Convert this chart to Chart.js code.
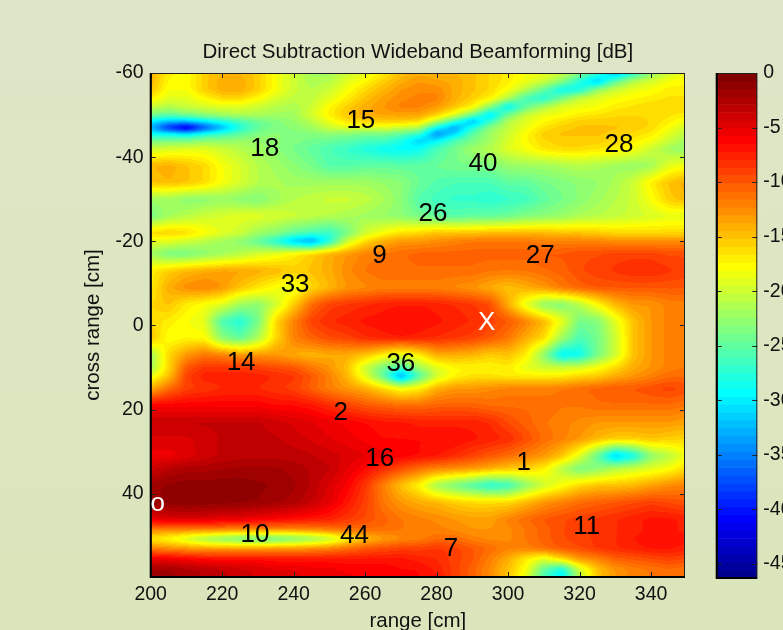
<!DOCTYPE html>
<html>
<head>
<meta charset="utf-8">
<script src="https://cdn.jsdelivr.net/npm/chart.js@4"></script>
<style>
html, body { margin: 0; padding: 0; width: 783px; height: 630px; overflow: hidden; }
body { position: relative; background: linear-gradient(180deg, #dfe5c8 0%, #dce6c0 60%, #dae5bb 100%); }
#main { position: absolute; left: 0; top: 0; }
#bar { position: absolute; left: 700px; top: 0; }
</style>
</head>
<body>
<canvas id="main" width="783" height="630"></canvas>
<canvas id="bar" width="120" height="630"></canvas>
<script>
// heat map samples in dB
const rangeCols = [200, 205, 210, 215, 220, 225, 230, 235, 240, 245, 250, 255, 260, 265, 270, 275, 280, 285, 290, 295, 300, 305, 310, 315, 320, 325, 330, 335, 340, 345, 350];
const crossRows = [-60, -58, -56, -54, -52, -50, -48.5, -47, -45.5, -44, -42, -38, -34, -30, -26, -22, -20, -17, -13, -9, -5, -1, 3, 7, 10, 12, 15, 19, 23, 27, 31, 34, 38, 42, 46, 48.5, 50.7, 53, 55.5, 58, 60];
const dbValues = [
    [-14, -17, -18, -15.5, -14.5, -14.5, -15.5, -18, -20, -22, -22, -20, -19, -17, -15, -14, -14.5, -14.5, -15, -16, -17, -18, -18.5, -20, -23, -27, -33, -28, -23, -20, -18],
    [-14.5, -17.5, -18, -15.5, -14, -14, -15.5, -18, -20, -21.5, -21, -19, -17.5, -15.5, -14, -13, -13.5, -14, -15, -16, -17, -18.5, -20, -23, -28, -32, -25, -21, -19.5, -18, -17.5],
    [-15, -18, -18, -15.5, -14, -14, -15.5, -18, -20, -21, -20, -18, -16, -14.5, -13, -12.5, -12.5, -14, -15, -16, -18, -21, -25, -29.5, -28.7, -22.5, -20, -18.5, -18, -17, -17],
    [-17, -19, -19, -17.5, -16, -16, -17.5, -19.5, -20.5, -20.5, -19, -17, -15, -13.5, -12.5, -12, -12, -14, -15.5, -17, -21, -26.5, -28, -24, -20, -19, -18, -17.5, -17, -16.5, -16.5],
    [-20, -21, -20, -19.5, -19, -19, -20, -21, -21.5, -20, -17.5, -15.5, -14, -13, -12, -12, -13, -15, -17, -23, -30, -25, -21.5, -19, -18.5, -18, -17, -16.5, -16, -16, -16],
    [-24, -25, -24, -23, -22, -21.5, -21.5, -22, -22, -19.5, -17, -15, -14, -13.5, -13.5, -13.5, -15.5, -19, -24.5, -31, -24, -20, -18.5, -18, -17, -16.5, -16, -16, -16, -16.5, -17],
    [-30, -32, -32, -30, -28, -26, -24.5, -23.5, -22.5, -21, -18.5, -16.5, -16, -15.5, -15.5, -16, -21, -27, -33, -27, -21, -19, -17.5, -16.5, -15.5, -15.5, -15.5, -15.5, -16, -17, -18.5],
    [-33, -40, -44, -38, -33, -28, -25, -23.5, -23, -22, -20, -19, -19, -19, -20, -21, -29, -34, -28, -23, -20.5, -18.5, -16.5, -15.5, -15, -15, -15, -15.5, -16, -18, -20],
    [-29, -29, -30, -28, -26.5, -25, -23.5, -23, -23.5, -23.5, -23, -23.5, -24, -24, -25, -27, -35, -31, -25, -22, -20, -17.5, -15.5, -15, -15, -15, -15.5, -16, -17, -19, -21],
    [-24, -24, -24, -23, -23, -22.5, -22.5, -23, -23.5, -24, -24.5, -25, -26, -26, -28, -31.5, -30, -26, -24, -22, -19.5, -17.5, -16, -15.5, -15.5, -15.5, -16, -17, -18, -20, -22],
    [-20, -19.5, -19, -19, -20, -21, -22, -23, -24, -25, -26, -27, -28, -29, -29.5, -29, -26, -24, -22, -21, -19, -18, -16.5, -16, -16, -16.5, -17, -18, -20, -22, -23],
    [-14.5, -14, -15, -16, -18, -19.5, -21, -22, -23, -24, -25.5, -25.5, -25, -25, -25, -25, -24.5, -24, -24, -23.5, -22.5, -22, -22, -21.5, -21, -21.5, -22, -22.5, -22, -19, -18],
    [-15, -14.5, -15, -16, -18, -19.5, -21, -21.5, -22, -22, -22, -22, -22, -22.5, -23, -24.5, -25.5, -26, -26, -26, -25, -25, -24, -23.5, -23, -22.5, -21.5, -20, -17, -15, -14],
    [-22, -22, -23, -23, -22.5, -23, -23.5, -22, -21, -20.5, -20, -20, -20.5, -21.5, -23, -25.5, -26.5, -27, -27, -27.5, -27, -26.5, -25, -24, -23, -22, -21, -20, -18, -15.5, -14.5],
    [-24, -22, -21, -20, -19.5, -19, -19, -19.5, -20, -20.5, -21, -21.5, -22, -22.5, -23, -24, -25, -25.5, -25, -25, -24.5, -23.5, -23, -22.5, -21.5, -21, -20.5, -20, -19.5, -19, -19],
    [-16, -15.5, -16, -17.5, -19, -20, -22, -23, -25, -26, -27, -24, -20, -18, -16.5, -16, -15, -15, -15, -14.5, -14.5, -14.5, -14.5, -15, -15, -15.5, -16, -16, -16, -16, -16],
    [-19, -19, -20, -21, -22, -23, -25, -28, -32, -34, -28, -20, -16, -14, -13, -13, -12.5, -12, -11.5, -11.5, -11.5, -11.5, -12, -12, -12, -12, -12.5, -12.5, -12.5, -12.5, -12.5],
    [-22, -24, -24, -23, -22, -21, -19.5, -18.5, -17, -15.5, -14, -13, -12, -11.5, -11, -10.5, -10.5, -10.5, -10.5, -10.5, -10.5, -10.5, -10, -10, -9.5, -9.5, -9, -9, -9, -9.5, -9.5],
    [-17, -15.5, -14.5, -14, -13.5, -13.5, -14, -14.5, -15.5, -15, -14, -12.5, -11.5, -11, -11, -11, -11, -11, -11, -11.5, -11.5, -11.5, -11, -10.5, -9.5, -9, -8.5, -8, -8, -8.5, -9],
    [-17, -14, -12.5, -12, -13, -15, -16.5, -18, -19, -16, -14.5, -13, -12.5, -12, -12, -12, -12, -12.5, -13, -14, -15, -14, -13, -11.5, -10.5, -10, -10, -10, -10, -10, -10],
    [-16, -15, -17, -18, -19, -22, -23, -20, -15.5, -11, -9, -8.5, -8, -7.5, -7.2, -7.2, -7.5, -8, -8.5, -9.5, -14, -19, -23, -23.5, -21, -17.5, -14.5, -13, -13, -12, -12],
    [-16, -17, -18, -19, -26, -28, -24, -16, -12, -9, -8, -7.5, -7, -6.8, -6.7, -6.7, -7, -7.5, -8, -9, -10, -12, -14.5, -18.5, -24, -23.5, -19, -15, -13, -12, -12],
    [-15, -18, -17.5, -17.5, -23, -25, -21.5, -16, -12, -10.5, -9.5, -9, -8, -7.5, -7.2, -7.5, -8, -8.5, -9, -10, -11.5, -14, -16, -22, -26, -24, -20, -15, -13, -12, -12],
    [-22, -16, -13, -11.5, -12, -13, -13, -13, -14, -14.5, -14, -14, -15, -17, -19, -17, -14, -14, -14.5, -15.5, -15, -17, -23, -30, -29, -24, -20, -15, -13, -12, -11.5],
    [-22, -16, -10, -8.5, -8.5, -8.5, -9, -9.5, -10, -11.5, -13, -15, -20, -24, -26, -22, -19, -17.5, -17.5, -17.5, -17, -19, -20, -20, -19.5, -18, -16, -14, -13, -12, -11.5],
    [-19, -15, -9, -7.5, -7.5, -7.5, -7.5, -8, -8.5, -10, -12, -14.5, -19, -25, -34, -26, -20, -17.5, -16.5, -16.5, -17, -17, -17, -17, -16, -15.5, -14, -13, -12, -11, -11],
    [-14, -11, -9, -8.5, -8, -8, -8, -8.5, -9, -10.5, -12, -13, -14, -16, -18, -17, -14, -13, -13, -12.5, -12, -12, -12, -11.5, -11, -10.5, -10, -10, -9.5, -9, -9.5],
    [-6, -6, -6, -6, -6, -6, -6, -6.5, -6.5, -7, -8, -9, -10, -10.5, -11, -11, -10.5, -10.5, -10.5, -11, -11, -11, -11, -11.5, -11.5, -11, -11, -11, -11, -11, -11.5],
    [-3.5, -3.5, -3.5, -3.5, -3.5, -3.5, -3.5, -4, -4.5, -5, -5.5, -6, -6.5, -7, -7, -7.5, -7.5, -7.5, -7.5, -8, -9.5, -10.5, -11.5, -12, -12.5, -13, -13, -13, -13, -13, -13.5],
    [-4.5, -4.5, -4.5, -4, -3.5, -3.5, -3.5, -3.5, -4, -4.5, -5, -5.5, -6, -6.5, -6.5, -6.5, -6.5, -6.5, -7, -7.5, -8, -9.5, -11, -12, -13, -14.5, -15.5, -15.5, -15, -15.5, -16],
    [-5.5, -5.5, -4.8, -4, -3.5, -3.2, -3.2, -3.2, -3.2, -3.5, -4, -4.5, -5, -5.5, -6, -6.5, -7, -8, -9, -10, -11, -12, -13, -15, -19, -25, -32, -29, -23, -21, -18],
    [-4, -3, -2.5, -2.5, -2.2, -2, -2, -2, -2.5, -3, -3.5, -5, -6.5, -8, -9.5, -11, -12, -12.5, -13, -14, -15, -15.5, -17, -21, -24, -23, -21, -20, -19, -18, -16],
    [-1.8, -1.3, -1, -1, -1, -1, -1.3, -1.5, -2, -3, -4.5, -6, -8.5, -12, -15, -17.5, -22, -24, -26, -28, -27, -23, -20, -18, -16, -15, -15, -14.5, -13.5, -12.5, -12],
    [-1.8, -1, -0.7, -0.9, -1, -1.2, -1.5, -2, -2.5, -3.5, -5, -7, -9, -11.5, -13, -14, -14.5, -15.5, -16, -16, -16, -14.5, -13, -12, -11, -10.5, -10, -9.5, -9, -9.5, -10],
    [-5, -4.5, -4.5, -4.5, -5, -5, -5.5, -6, -6.5, -7, -7.5, -8.5, -9.5, -10.5, -11.5, -12, -12.5, -13, -13.5, -13.5, -12, -11, -10, -9.5, -9, -8.5, -8, -7.5, -7, -7, -7.5],
    [-12, -12, -12, -12, -12, -12.5, -12.5, -12.5, -12.5, -12, -11.5, -11, -11, -11, -11.5, -12, -12, -12.5, -13, -13, -12.5, -11.5, -10.5, -9.5, -9, -8.5, -8, -7.5, -7, -7, -7.5],
    [-17, -18, -20, -22, -23.5, -24.5, -25, -25, -24, -23, -21, -17.5, -15, -13.5, -12.5, -12, -11, -11, -12, -12.5, -12.5, -11.5, -10.5, -9.5, -9, -8.5, -8, -7.2, -7, -7, -7],
    [-12, -12.5, -13, -13.5, -13.5, -13.5, -13.5, -13, -13, -12.5, -12, -11, -10, -9.5, -9, -9, -8.5, -9, -10, -11, -12, -12, -11, -10, -9.5, -8.5, -8, -7.5, -7, -7, -7.5],
    [-5, -5.5, -6, -6.5, -6.5, -6.5, -6.5, -7, -7, -7, -7, -7, -7, -7, -7, -7.5, -8, -9, -10, -12, -14, -17, -19, -16, -13, -12, -10.5, -10, -9.5, -9, -9.5],
    [-2, -2, -2.5, -3, -3.5, -4, -4.5, -5, -5, -5.5, -5.5, -6, -6, -6, -6.5, -6.5, -7.5, -9, -10.5, -12.5, -15, -18, -25, -29, -20, -15, -13, -12, -11.5, -11, -11.5],
    [-1.5, -2, -2.5, -3, -3.5, -4, -4.5, -4.5, -5, -5, -5.5, -5.5, -6, -6, -6, -6.5, -7, -9, -10.5, -12.5, -15, -19, -26, -30, -21, -15, -13, -12, -11.5, -11, -11.5]
];

// axis tick labels
const rangeTicks = [200, 220, 240, 260, 280, 300, 320, 340];
const crossTicks = [-60, -40, -20, 0, 20, 40];
const barTicks = [0, -5, -10, -15, -20, -25, -30, -35, -40, -45];

// text marks placed on the map
const markTexts = ['15', '18', '28', '40', '26', '9', '27', '33', 'X', '14', '36', '2', '16', '1', 'o', '10', '44', '7', '11'];
const markRange = [258.8, 231.9, 331, 293, 279, 264, 309, 240.4, 294, 225.3, 270, 253.2, 264.1, 304.4, 202, 229.2, 257, 284, 322];
const markCross = [-49, -42.5, -43.5, -39, -27, -17, -17, -10.2, -1.1, 8.5, 8.6, 20.3, 31.3, 32.2, 42, 49.3, 49.5, 52.7, 47.5];
const markWhite = ['X', 'o'];

// colorbar level edges in dB, top to bottom
const barEdges = [0, -0.72, -1.45, -2.17, -2.89, -3.62, -4.34, -5.06, -5.79, -6.51, -7.23, -7.96, -8.68, -9.40, -10.13, -10.85, -11.57, -12.30, -13.02, -13.74, -14.47, -15.19, -15.92, -16.64, -17.36, -18.09, -18.81, -19.53, -20.26, -20.98, -21.70, -22.43, -23.15, -23.87, -24.60, -25.32, -26.04, -26.77, -27.49, -28.21, -28.94, -29.66, -30.38, -31.11, -31.83, -32.55, -33.28, -34.00, -34.72, -35.45, -36.17, -36.89, -37.62, -38.34, -39.06, -39.79, -40.51, -41.23, -41.96, -42.68, -43.40, -44.13, -44.85, -45.57, -46.30];

const dbMin = -46.3;
const fontName = '"Liberation Sans", Arial, sans-serif';

function clamp01(v) {
    return Math.max(0, Math.min(1, v));
}

// MATLAB jet, 64 levels
function jetRgb(i) {
    const t = (i + 1) / 64;
    return [
        Math.round(255 * clamp01(1.5 - Math.abs(4 * t - 3))),
        Math.round(255 * clamp01(1.5 - Math.abs(4 * t - 2))),
        Math.round(255 * clamp01(1.5 - Math.abs(4 * t - 1)))
    ];
}

function levelOf(db) {
    return Math.max(0, Math.min(63, Math.floor((db - dbMin) / -dbMin * 64)));
}

// fractional index of v inside a sorted list
function fracIndex(list, v) {
    let i = 0;
    while (i < list.length - 2 && list[i + 1] < v) i++;
    return i + clamp01((v - list[i]) / (list[i + 1] - list[i]));
}

function boxBlur(src, w, h, rad) {
    const out = new Float32Array(src.length);
    for (let j = 0; j < h; j++) {
        for (let i = 0; i < w; i++) {
            let sum = 0;
            for (let d = -rad; d <= rad; d++) sum += src[j * w + Math.max(0, Math.min(w - 1, i + d))];
            out[j * w + i] = sum / (2 * rad + 1);
        }
    }
    const out2 = new Float32Array(src.length);
    for (let j = 0; j < h; j++) {
        for (let i = 0; i < w; i++) {
            let sum = 0;
            for (let d = -rad; d <= rad; d++) sum += out[Math.max(0, Math.min(h - 1, j + d)) * w + i];
            out2[j * w + i] = sum / (2 * rad + 1);
        }
    }
    return out2;
}

// shaded surface, like MATLAB "shading interp"
const surfacePlugin = {
    id: 'surface',
    beforeDatasetsDraw(chart) {
        const a = chart.chartArea, xs = chart.scales.x, ys = chart.scales.y;
        const w = Math.round(a.right - a.left), h = Math.round(a.bottom - a.top);
        let field = new Float32Array(w * h);
        const fxs = [];
        for (let i = 0; i < w; i++) fxs.push(fracIndex(rangeCols, xs.getValueForPixel(a.left + i + 0.5)));
        for (let j = 0; j < h; j++) {
            const fy = fracIndex(crossRows, ys.getValueForPixel(a.top + j + 0.5));
            const iy = Math.min(Math.floor(fy), crossRows.length - 2), ty = fy - iy;
            for (let i = 0; i < w; i++) {
                const ix = Math.min(Math.floor(fxs[i]), rangeCols.length - 2), tx = fxs[i] - ix;
                const top = dbValues[iy][ix] * (1 - tx) + dbValues[iy][ix + 1] * tx;
                const bot = dbValues[iy + 1][ix] * (1 - tx) + dbValues[iy + 1][ix + 1] * tx;
                field[j * w + i] = top * (1 - ty) + bot * ty;
            }
        }
        field = boxBlur(boxBlur(field, w, h, 2), w, h, 2);
        const off = document.createElement('canvas');
        off.width = w;
        off.height = h;
        const octx = off.getContext('2d');
        const img = octx.createImageData(w, h);
        for (let k = 0; k < w * h; k++) {
            const rgb = jetRgb(levelOf(field[k]));
            img.data[k * 4] = rgb[0];
            img.data[k * 4 + 1] = rgb[1];
            img.data[k * 4 + 2] = rgb[2];
            img.data[k * 4 + 3] = 255;
        }
        octx.putImageData(img, 0, 0);
        chart.ctx.drawImage(off, a.left, a.top);
    }
};

// box and inward ticks, drawn from the scale ticks
function drawBox(chart, yScale, xScale) {
    const a = chart.chartArea, ctx = chart.ctx;
    ctx.save();
    ctx.strokeStyle = '#222';
    ctx.lineWidth = 1;
    ctx.beginPath();
    ctx.rect(a.left + 0.5, a.top + 0.5, a.right - a.left - 1, a.bottom - a.top - 1);
    if (xScale) {
        xScale.ticks.forEach((t, i) => {
            const px = Math.round(xScale.getPixelForTick(i)) + 0.5;
            ctx.moveTo(px, a.top);
            ctx.lineTo(px, a.top + 5);
            ctx.moveTo(px, a.bottom);
            ctx.lineTo(px, a.bottom - 5);
        });
    }
    yScale.ticks.forEach((t, i) => {
        const py = Math.round(yScale.getPixelForTick(i)) + 0.5;
        ctx.moveTo(a.left, py);
        ctx.lineTo(a.left + 5, py);
        ctx.moveTo(a.right, py);
        ctx.lineTo(a.right - 5, py);
    });
    ctx.stroke();
    ctx.strokeStyle = '#000';
    ctx.lineWidth = 2;
    ctx.beginPath();
    ctx.moveTo(a.left, a.top);
    ctx.lineTo(a.left, a.bottom);
    ctx.lineTo(a.right, a.bottom);
    ctx.stroke();
    ctx.restore();
}

const marksPlugin = {
    id: 'marks',
    afterDraw(chart) {
        const ctx = chart.ctx;
        drawBox(chart, chart.scales.y, chart.scales.x);
        ctx.save();
        ctx.textAlign = 'center';
        ctx.textBaseline = 'middle';
        ctx.font = '26px ' + fontName;
        chart.getDatasetMeta(0).data.forEach((pt, i) => {
            ctx.fillStyle = markWhite.includes(markTexts[i]) ? '#ffffff' : '#000000';
            ctx.fillText(markTexts[i], pt.x, pt.y + 2);
        });
        ctx.restore();
    }
};

function fixedTicks(values) {
    return function (scale) {
        scale.ticks = values.map(v => ({ value: v }));
    };
}

new Chart(document.getElementById('main').getContext('2d'), {
    type: 'scatter',
    data: {
        datasets: [{
            label: 'marks',
            data: markTexts.map((t, i) => ({ x: markRange[i], y: markCross[i] })),
            pointRadius: 0
        }]
    },
    plugins: [surfacePlugin, marksPlugin],
    options: {
        responsive: false,
        animation: false,
        layout: { padding: { left: 0, top: 0, right: 98, bottom: 0 } },
        plugins: {
            legend: { display: false },
            tooltip: { enabled: false },
            title: {
                display: true,
                text: 'Direct Subtraction Wideband Beamforming [dB]',
                fullSize: false,
                color: '#111',
                font: { family: fontName, size: 20.5, weight: 'normal' },
                padding: { top: 39.7, bottom: 8.7 }
            }
        },
        scales: {
            x: {
                type: 'linear',
                min: 200,
                max: 349.5,
                grid: { display: false, drawTicks: false },
                border: { display: false },
                afterFit(s) { s.height = 53; },
                afterBuildTicks: fixedTicks(rangeTicks),
                ticks: { maxRotation: 0, autoSkip: false, color: '#111', padding: 6, font: { family: fontName, size: 19.5 } },
                title: { display: true, text: 'range [cm]', color: '#111', font: { family: fontName, size: 20.5 }, padding: { top: 0, bottom: -4 } }
            },
            y: {
                type: 'linear',
                reverse: true,
                min: -60,
                max: 59.8,
                grid: { display: false, drawTicks: false },
                border: { display: false },
                afterFit(s) { s.width = 150.7; },
                afterBuildTicks: fixedTicks(crossTicks),
                ticks: { autoSkip: false, color: '#111', padding: 7, font: { family: fontName, size: 19.5 } },
                title: { display: true, text: 'cross range [cm]', color: '#111', font: { family: fontName, size: 20.5 }, padding: { top: 81, bottom: 0 } }
            }
        }
    }
});

// colorbar
const barLevels = barEdges.slice(1).map((lo, i) => [lo, barEdges[i]]);
new Chart(document.getElementById('bar').getContext('2d'), {
    type: 'bar',
    data: {
        labels: ['dB'],
        datasets: barLevels.map((lv, i) => {
            const rgb = jetRgb(63 - i);
            const col = 'rgb(' + rgb.join(',') + ')';
            return { data: [lv], backgroundColor: col, borderColor: col, borderWidth: 0, barPercentage: 1, categoryPercentage: 1, grouped: false };
        })
    },
    plugins: [{
        id: 'barBox',
        afterDraw(chart) { drawBox(chart, chart.scales.y, null); }
    }],
    options: {
        responsive: false,
        animation: false,
        layout: { padding: { left: 16.7, top: 73, right: 0, bottom: 52 } },
        plugins: { legend: { display: false }, tooltip: { enabled: false } },
        scales: {
            x: { display: false },
            y: {
                position: 'right',
                min: dbMin,
                max: 0,
                grid: { display: false, drawTicks: false },
                border: { display: false },
                afterFit(s) { s.width = 62.7; },
                afterBuildTicks: fixedTicks(barTicks),
                ticks: { autoSkip: false, color: '#111', padding: 6, font: { family: fontName, size: 19.5 } }
            }
        }
    }
});
</script>
</body>
</html>
